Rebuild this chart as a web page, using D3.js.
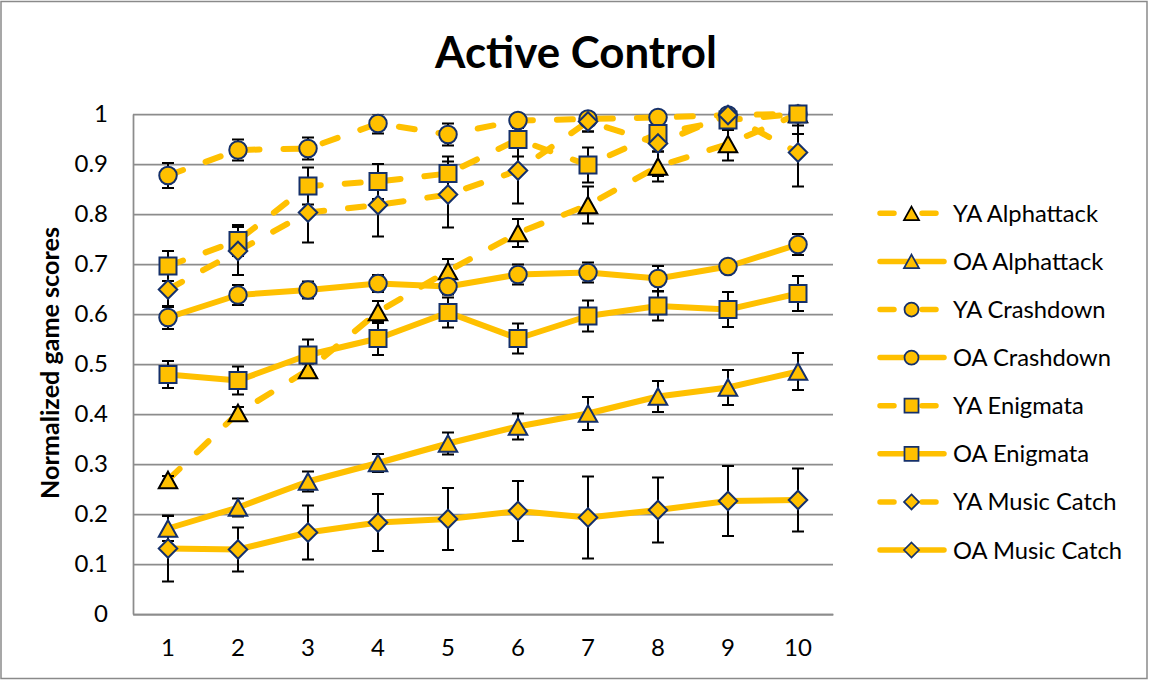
<!DOCTYPE html>
<html>
<head>
<meta charset="utf-8">
<title>Active Control</title>
<script src="https://cdn.jsdelivr.net/npm/d3@7"></script>
<style>
  html, body { margin: 0; padding: 0; background: #ffffff; }
  svg { display: block; font-family: Lato, "Open Sans", "Noto Sans", sans-serif; }
</style>
</head>
<body>
<svg id="chart" width="1149" height="680"></svg>
<script>
// ---- data -------------------------------------------------------------
const sessions = [1, 2, 3, 4, 5, 6, 7, 8, 9, 10];
const yTicks = [0, 0.1, 0.2, 0.3, 0.4, 0.5, 0.6, 0.7, 0.8, 0.9, 1];

const seriesNames = [
  "YA Alphattack", "OA Alphattack", "YA Crashdown", "OA Crashdown",
  "YA Enigmata", "OA Enigmata", "YA Music Catch", "OA Music Catch"
];

const yaAlphattack     = [0.268, 0.402, 0.488, 0.604, 0.686, 0.762, 0.818, 0.895, 0.940, 1.000];
const yaAlphattackErr  = [0.008, 0.012, 0.013, 0.022, 0.024, 0.028, 0.037, 0.030, 0.033, 0.040];
const oaAlphattack     = [0.171, 0.213, 0.265, 0.302, 0.341, 0.375, 0.401, 0.435, 0.453, 0.485];
const oaAlphattackErr  = [0.025, 0.018, 0.020, 0.018, 0.022, 0.026, 0.033, 0.031, 0.035, 0.037];
const yaCrashdown      = [0.877, 0.928, 0.931, 0.981, 0.959, 0.987, 0.990, 0.993, 0.998, 1.000];
const yaCrashdownErr   = [0.025, 0.021, 0.022, 0.020, 0.022, 0.015, 0.025, 0.012, 0.010, 0.010];
const oaCrashdown      = [0.593, 0.638, 0.648, 0.661, 0.655, 0.679, 0.683, 0.671, 0.695, 0.739];
const oaCrashdownErr   = [0.023, 0.020, 0.017, 0.017, 0.016, 0.020, 0.020, 0.025, 0.012, 0.021];
const yaEnigmata       = [0.696, 0.747, 0.856, 0.865, 0.881, 0.949, 0.898, 0.961, 0.988, 1.000];
const yaEnigmataErr    = [0.030, 0.031, 0.037, 0.035, 0.034, 0.034, 0.035, 0.036, 0.020, 0.023];
const oaEnigmata       = [0.479, 0.467, 0.518, 0.551, 0.603, 0.551, 0.596, 0.616, 0.609, 0.641];
const oaEnigmataErr    = [0.027, 0.028, 0.031, 0.033, 0.030, 0.030, 0.031, 0.029, 0.035, 0.035];
const yaMusicCatch     = [0.649, 0.726, 0.803, 0.818, 0.839, 0.887, 0.985, 0.941, 0.998, 0.923];
const yaMusicCatchErr  = [0.035, 0.048, 0.060, 0.063, 0.066, 0.066, 0.020, 0.065, 0.010, 0.068];
const oaMusicCatch     = [0.131, 0.129, 0.163, 0.183, 0.190, 0.206, 0.193, 0.208, 0.226, 0.228];
const oaMusicCatchErr  = [0.066, 0.044, 0.054, 0.057, 0.062, 0.060, 0.082, 0.065, 0.070, 0.063];

// ---- styling ----------------------------------------------------------
const GOLD = "#FFC000";
const NAVY = "#15306A";
const GRID = "#8c8c8c";

// Symbol types whose "size" is the marker width in pixels.
const shapes = {
  triangle: { draw(ctx, w) { const h = w * 0.9; ctx.moveTo(0, -h / 2); ctx.lineTo(w / 2, h / 2); ctx.lineTo(-w / 2, h / 2); ctx.closePath(); } },
  circle:   { draw(ctx, w) { const r = w / 2; ctx.moveTo(r, 0); ctx.arc(0, 0, r, 0, 2 * Math.PI); } },
  square:   { draw(ctx, w) { ctx.rect(-w / 2, -w / 2, w, w); } },
  diamond:  { draw(ctx, w) { const r = w / 2; ctx.moveTo(0, -r); ctx.lineTo(r, 0); ctx.lineTo(0, r); ctx.lineTo(-r, 0); ctx.closePath(); } }
};
const markerWidth = { triangle: 18.5, circle: 17.5, square: 17, diamond: 18.5 };

const valueSets = [yaAlphattack, oaAlphattack, yaCrashdown, oaCrashdown, yaEnigmata, oaEnigmata, yaMusicCatch, oaMusicCatch];
const errorSets = [yaAlphattackErr, oaAlphattackErr, yaCrashdownErr, oaCrashdownErr, yaEnigmataErr, oaEnigmataErr, yaMusicCatchErr, oaMusicCatchErr];
const shapeOf = ["triangle", "triangle", "circle", "circle", "square", "square", "diamond", "diamond"];

const series = seriesNames.map((name, i) => ({
  name,
  dashed: name.startsWith("YA"),
  shape: shapeOf[i],
  outline: i === 0 ? "#000000" : NAVY,
  points: sessions.map((s, j) => ({ session: s, value: valueSets[i][j], err: errorSets[i][j] }))
}));

// ---- layout -----------------------------------------------------------
const svg = d3.select("#chart");
const plot = { left: 133, right: 833, top: 114, bottom: 614 };

const x = d3.scaleBand().domain(sessions).range([plot.left, plot.right]);
const cx = d => x(d) + x.bandwidth() / 2;
const y = d3.scaleLinear().domain([0, 1]).range([plot.bottom, plot.top]);

// error bars stay inside the plot area
svg.append("defs").append("clipPath").attr("id", "plot-clip")
  .append("rect")
  .attr("x", plot.left).attr("y", plot.top)
  .attr("width", plot.right - plot.left).attr("height", plot.bottom - plot.top);

// outer chart frame
svg.append("rect")
  .attr("x", 1).attr("y", 1.5).attr("width", 1146).attr("height", 677)
  .attr("fill", "#ffffff").attr("stroke", "#8a8a8a").attr("stroke-width", 1.5);

// title
const title = svg.append("text")
  .attr("x", 576).attr("y", 68)
  .attr("text-anchor", "middle")
  .attr("font-weight", "bold").attr("font-size", 42).attr("fill", "#000")
  .text("Active Control");

// y axis with horizontal gridlines
const yAxis = svg.append("g")
  .attr("transform", `translate(${plot.left},0)`)
  .call(d3.axisLeft(y).tickValues(yTicks)
    .tickSize(-(plot.right - plot.left)).tickSizeOuter(0).tickPadding(25)
    .tickFormat(d => String(+d.toFixed(1))));
yAxis.select(".domain").attr("stroke", GRID).attr("stroke-width", 1.75);
yAxis.selectAll(".tick line").attr("stroke", GRID).attr("stroke-width", 1.75);
yAxis.selectAll(".tick text").attr("font-size", 24).attr("fill", "#000");
yAxis.attr("font-family", null).attr("font-size", null);

// x axis
const xAxis = svg.append("g")
  .attr("transform", `translate(0,${plot.bottom})`)
  .call(d3.axisBottom(x).tickSize(0).tickSizeOuter(0).tickPadding(25));
xAxis.select(".domain").attr("stroke", GRID).attr("stroke-width", 1.75);
xAxis.selectAll(".tick text").attr("font-size", 24).attr("fill", "#000");
xAxis.attr("font-family", null).attr("font-size", null);

// y axis title
const yTitle = svg.append("text")
  .attr("transform", `translate(59,${(plot.top + plot.bottom) / 2 - 1}) rotate(-90)`)
  .attr("text-anchor", "middle")
  .attr("font-weight", "bold").attr("font-size", 22).attr("fill", "#000")
  .text("Normalized game scores");

// ---- series -----------------------------------------------------------
const line = d3.line().x(d => cx(d.session)).y(d => y(d.value));

const linesG = svg.append("g");
series.forEach(s => {
  linesG.append("path")
    .datum(s.points)
    .attr("d", line)
    .attr("fill", "none")
    .attr("stroke", GOLD)
    .attr("stroke-width", 6)
    .attr("stroke-linejoin", "round")
    .attr("stroke-linecap", "round")
    .attr("stroke-dasharray", s.dashed ? "16,24" : null);
});

const errG = svg.append("g")
  .attr("clip-path", "url(#plot-clip)")
  .attr("stroke", "#000").attr("stroke-width", 2).attr("fill", "none");
const capHalf = 6;
series.forEach(s => {
  const g = errG.append("g");
  g.selectAll("path").data(s.points).join("path")
    .attr("d", d => {
      const px = cx(d.session), top = y(d.value + d.err), bot = y(d.value - d.err);
      return `M${px},${top}V${bot}M${px - capHalf},${top}H${px + capHalf}M${px - capHalf},${bot}H${px + capHalf}`;
    });
});

const markG = svg.append("g");
series.forEach(s => {
  const sym = d3.symbol().type(shapes[s.shape]).size(markerWidth[s.shape]);
  markG.append("g").selectAll("path").data(s.points).join("path")
    .attr("transform", d => `translate(${cx(d.session)},${y(d.value)})`)
    .attr("d", sym)
    .attr("fill", GOLD)
    .attr("stroke", s.outline)
    .attr("stroke-width", 2);
});

// ---- legend -----------------------------------------------------------
const legend = svg.append("g");
const rowY = i => 213.3 + i * 48.1;
const legendLabels = [];
series.forEach((s, i) => {
  const g = legend.append("g").attr("transform", `translate(0,${rowY(i)})`);
  g.append("path")
    .attr("d", "M880,0H944")
    .attr("stroke", GOLD).attr("stroke-width", 5.5)
    .attr("stroke-linecap", "round")
    .attr("stroke-dasharray", s.dashed ? "14,28" : null);
  g.append("path")
    .attr("transform", "translate(911.5,0)")
    .attr("d", d3.symbol().type(shapes[s.shape]).size(s.shape === "circle" ? 14 : s.shape === "square" ? 14 : 15)())
    .attr("fill", GOLD).attr("stroke", s.outline).attr("stroke-width", 1.75);
  legendLabels.push(g.append("text")
    .attr("x", 953).attr("y", 8.5)
    .attr("font-size", 24).attr("fill", "#000")
    .text(s.name));
});

// scale text so that its rendered width matches the layout
function fitFont(sel, targetWidth) {
  const w = sel.node().getComputedTextLength();
  const fs = parseFloat(sel.attr("font-size"));
  if (w > 0) sel.attr("font-size", fs * targetWidth / w);
}
fitFont(title, 282);
fitFont(yTitle, 272);
const ref = legendLabels[legendLabels.length - 1];
const refW = ref.node().getComputedTextLength();
const legendSize = 24 * 169 / refW;
legendLabels.forEach(t => t.attr("font-size", legendSize));
</script>
</body>
</html>
